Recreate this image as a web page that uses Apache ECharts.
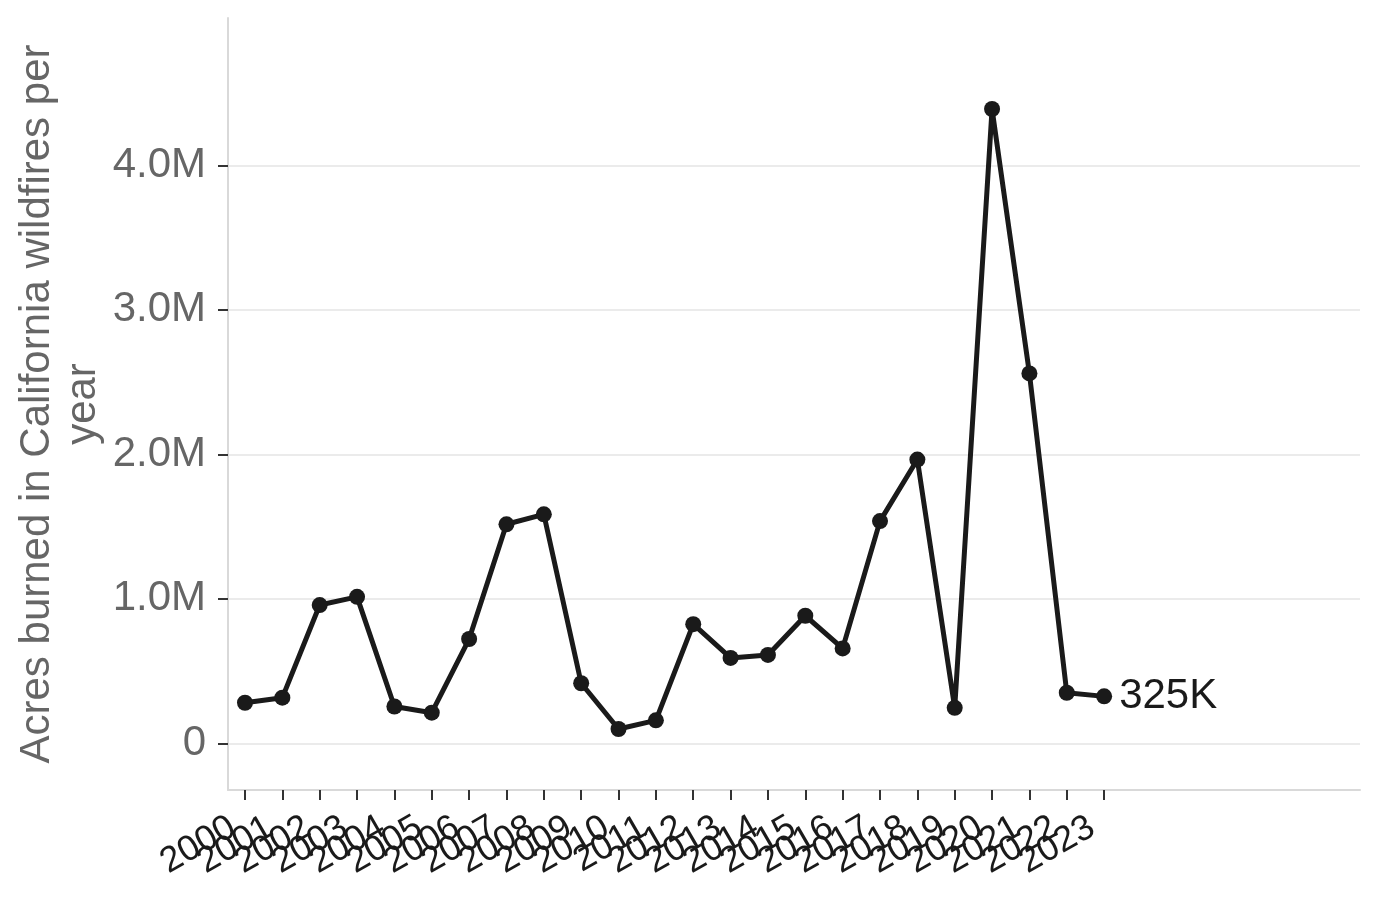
<!DOCTYPE html>
<html>
<head>
<meta charset="utf-8">
<script src="https://cdn.jsdelivr.net/npm/echarts@6/dist/echarts.min.js"></script>
<style>
  html, body { margin: 0; padding: 0; background: #fff; }
  #main { width: 1380px; height: 899px; }
</style>
</head>
<body>
<div id="main"></div>
<script>
// 数据：加州每年山火燃烧面积（英亩）
const years = [2000, 2001, 2002, 2003, 2004, 2005, 2006, 2007, 2008, 2009, 2010, 2011,
               2012, 2013, 2014, 2015, 2016, 2017, 2018, 2019, 2020, 2021, 2022, 2023]
const acres = [281000, 316000, 957000, 1014000, 255000, 212000, 722000, 1516000, 1585000, 416000, 99000, 159000,
               825000, 591000, 612000, 883000, 657000, 1538000, 1964000, 246000, 4390000, 2560000, 350000, 325000]
const yTicks = [0, 1000000, 2000000, 3000000, 4000000]

// 首尾两个标签旁边放一个离得远的年份，避免 echarts 自动隐藏首尾重叠的标签
const mid = Math.floor(years.length / 2)
const xTicks = [years[0], years[mid]]
    .concat(years.slice(1, mid - 1), years.slice(mid + 1, years.length - 1))
    .concat([years[mid - 1], years[years.length - 1]])

const font = 'Liberation Sans, Arial, sans-serif'

const myChart = echarts.init(document.getElementById('main'))

myChart.setOption({
    animation: false,
    grid: { left: 228, right: 20, top: 18, bottom: 109, outerBoundsMode: 'none' },
    xAxis: {
        type: 'value',
        min: 1999.545,
        max: 2029.85,
        axisLine: { show: true, onZero: false, lineStyle: { color: '#d9d9d9', width: 2 } },
        axisTick: {
            show: true, customValues: years, length: 10,
            lineStyle: { color: '#333', width: 2 }
        },
        splitLine: { show: false },
        axisLabel: {
            customValues: xTicks,
            hideOverlap: false,
            rotate: 30,
            margin: 28,
            padding: [0, 14, 0, 0],
            color: '#1a1a1a',
            fontSize: 36,
            fontFamily: font,
            formatter: v => String(v)
        }
    },
    yAxis: {
        type: 'value',
        min: -323000,
        max: 5020000,
        name: 'Acres burned in California wildfires per\nyear',
        nameLocation: 'middle',
        nameGap: 122,
        nameMoveOverlap: false,
        nameRotate: 90,
        nameTextStyle: { color: '#666', fontSize: 42, fontFamily: font, align: 'center', lineHeight: 46 },
        axisLine: { show: true, onZero: false, lineStyle: { color: '#d9d9d9', width: 2 } },
        axisTick: {
            show: true, customValues: yTicks, length: 10,
            lineStyle: { color: '#333', width: 2 }
        },
        splitLine: { show: true, lineStyle: { color: '#ebebeb', width: 2 } },
        axisLabel: {
            customValues: yTicks,
            margin: 22,
            color: '#666',
            fontSize: 42,
            fontFamily: font,
            formatter: v => v === 0 ? '0' : (v / 1000000).toFixed(1) + 'M'
        }
    },
    series: [
        {
            type: 'line',
            data: years.map((y, i) => [y, acres[i]]),
            symbol: 'circle',
            symbolSize: 16,
            itemStyle: { color: '#1a1a1a' },
            lineStyle: { color: '#1a1a1a', width: 5 },
            endLabel: {
                show: true,
                distance: 15,
                color: '#1a1a1a',
                fontSize: 42,
                fontFamily: font,
                formatter: p => Math.round(p.value[1] / 1000) + 'K'
            }
        }
    ]
})
</script>
</body>
</html>
